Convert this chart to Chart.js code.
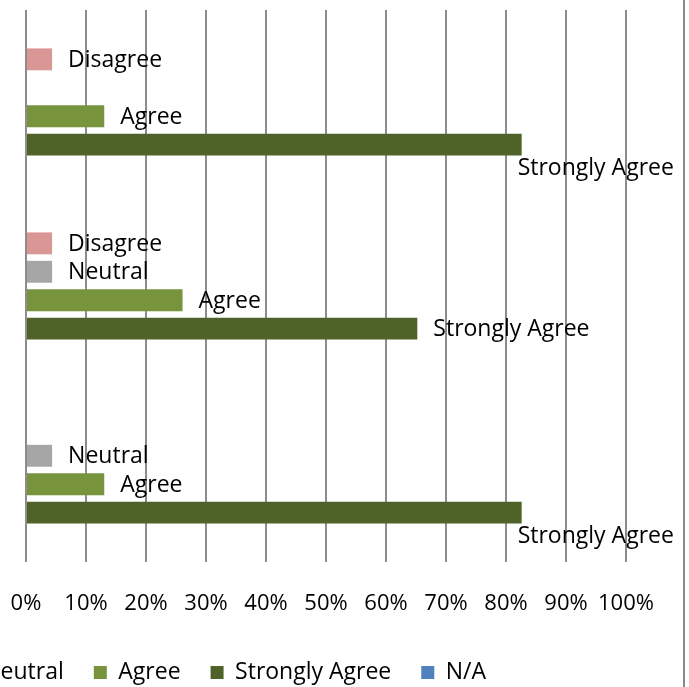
<!DOCTYPE html>
<html>
<head>
<meta charset="utf-8">
<script src="https://cdn.jsdelivr.net/npm/chart.js@4"></script>
<style>
  body { margin: 0; background: #fff; }
  #wrap { position: relative; width: 683px; height: 687px; overflow: hidden; border-right: 2px solid #888; background: #fff; }
  #chart { position: absolute; top: 0; }
</style>
</head>
<body>
<div id="wrap"><canvas id="chart"></canvas></div>
<script>
// categorias (las etiquetas del eje quedan fuera del recorte)
const categorias = ['Pregunta 1', 'Pregunta 2', 'Pregunta 3'];

// porcentajes por respuesta
const stronglyDisagree = [0, 0, 0];
const disagree = [4.35, 4.35, 0];
const neutral = [0, 4.35, 4.35];
const agree = [13.04, 26.09, 13.04];
const stronglyAgree = [82.61, 65.22, 82.61];
const noAplica = [0, 0, 0];

const ticksX = [0, 10, 20, 30, 40, 50, 60, 70, 80, 90, 100];

const fuente = 'Open Sans';
const desplazamiento = 572; // parte izquierda del grafico queda fuera de vista
const anchoVisible = 683;

const canvas = document.getElementById('chart');
canvas.width = anchoVisible + desplazamiento;
canvas.height = 694;
canvas.style.left = (-desplazamiento) + 'px';

// etiquetas con el nombre de la serie al final de cada barra
const etiquetasSerie = {
  id: 'etiquetasSerie',
  afterDatasetsDraw(chart) {
    const ctx = chart.ctx;
    ctx.save();
    ctx.font = '23px "' + fuente + '"';
    ctx.fillStyle = '#000';
    ctx.textBaseline = 'middle';
    ctx.textAlign = 'left';
    chart.data.datasets.forEach((ds, i) => {
      const meta = chart.getDatasetMeta(i);
      meta.data.forEach((barra, j) => {
        if (!ds.data[j]) return;
        const w = ctx.measureText(ds.label).width;
        let x = barra.x + 16;
        let y = barra.y + 1;
        if (x + w > chart.width - 6) {
          x = barra.x - 4;
          y = barra.y + 24;
        }
        ctx.fillText(ds.label, x, y);
      });
    });
    ctx.restore();
  }
};

const series = [
  { label: 'Strongly Disagree', data: stronglyDisagree, backgroundColor: '#C0504D' },
  { label: 'Disagree', data: disagree, backgroundColor: '#D99694' },
  { label: 'Neutral', data: neutral, backgroundColor: '#A6A6A6' },
  { label: 'Agree', data: agree, backgroundColor: '#77933C' },
  { label: 'Strongly Agree', data: stronglyAgree, backgroundColor: '#4F6228' },
  { label: 'N/A', data: noAplica, backgroundColor: '#4F81BD' }
];

const config = {
  type: 'bar',
  data: {
    labels: categorias,
    datasets: series.map(s => Object.assign({
      categoryPercentage: 0.927,
      barPercentage: 0.77,
      borderWidth: 0
    }, s))
  },
  options: {
    indexAxis: 'y',
    responsive: false,
    animation: false,
    layout: { padding: { top: 10, right: 57, left: 0, bottom: 0 } },
    scales: {
      x: {
        min: 0,
        max: 100,
        afterBuildTicks(scale) { scale.ticks = ticksX.map(v => ({ value: v })); },
        afterFit(scale) { scale.height = 69; },
        grid: { color: '#8c8c8c', lineWidth: 2, drawTicks: false },
        border: { display: false },
        ticks: {
          padding: 29,
          color: '#000',
          autoSkip: false,
          maxRotation: 0,
          minRotation: 0,
          font: { family: fuente, size: 22 },
          callback: v => v + '%'
        }
      },
      y: {
        afterFit(scale) { scale.width = desplazamiento + 26; },
        grid: { display: false },
        border: { display: false },
        ticks: { display: false }
      }
    },
    plugins: {
      legend: {
        position: 'bottom',
        labels: {
          boxWidth: 13,
          boxHeight: 13,
          padding: 30,
          color: '#000',
          font: { family: fuente, size: 23 }
        }
      },
      tooltip: { enabled: false }
    }
  },
  plugins: [etiquetasSerie]
};

const grafico = new Chart(canvas.getContext('2d'), config);
</script>
</body>
</html>
